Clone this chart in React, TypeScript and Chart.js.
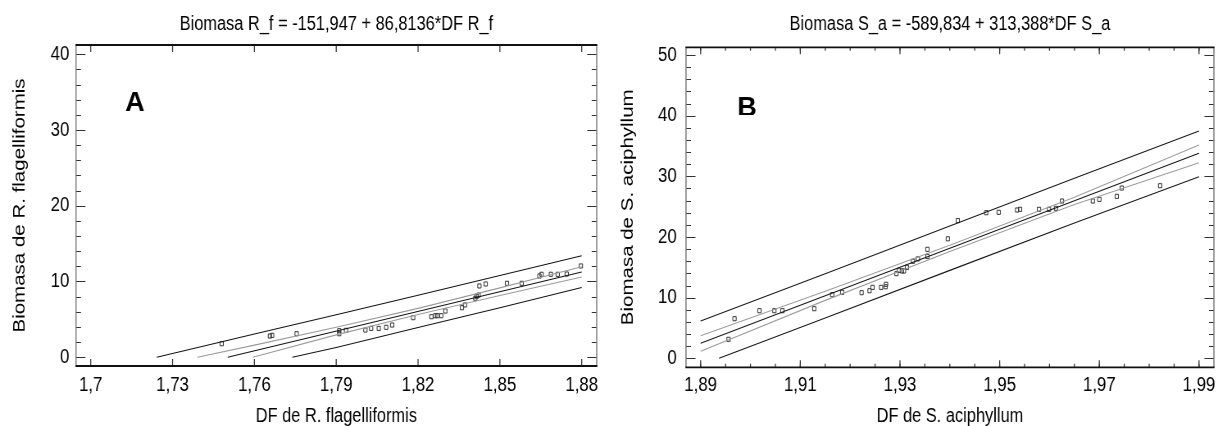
import React, { useEffect, useRef } from 'react';
import { Chart, registerables } from 'chart.js';

Chart.register(...registerables);

const FONT = '"Liberation Sans", Arial, sans-serif';

// ---------- Panel A : R. flagelliformis ----------
const rfTitle = 'Biomasa R_f = -151,947 + 86,8136*DF R_f';
const rfXLabel = 'DF de R. flagelliformis';
const rfYLabel = 'Biomasa de R. flagelliformis';
const rfXTicks = [1.7, 1.73, 1.76, 1.79, 1.82, 1.85, 1.88];
const rfYTicks = [0, 10, 20, 30, 40];
const rfDF = [1.748, 1.7657, 1.7665, 1.7755, 1.7911, 1.7911, 1.7936, 1.8007, 1.8028, 1.8056, 1.8083, 1.8105, 1.8182, 1.8249, 1.8263, 1.8271, 1.8285, 1.83, 1.8361, 1.8372, 1.841, 1.8415, 1.8422, 1.8425, 1.8448, 1.8526, 1.858, 1.8645, 1.8653, 1.8687, 1.8712, 1.8745, 1.8797];
const rfBiomasa = [1.78, 2.8, 2.89, 3.1, 3.1, 3.5, 3.55, 3.59, 3.81, 3.81, 3.95, 4.25, 5.22, 5.35, 5.48, 5.48, 5.48, 6.1, 6.54, 6.9, 7.78, 8.05, 8.2, 9.41, 9.67, 9.76, 9.76, 10.73, 10.95, 10.95, 10.95, 10.99, 12.05];
const rfFitX = [1.7502, 1.88];
const rfFitY = [0, 11.26];
const rfUpperPredX = [1.7242, 1.76, 1.79, 1.82, 1.85, 1.88];
const rfUpperPredY = [0, 3.07, 5.61, 8.18, 10.79, 13.41];
const rfUpperConfX = [1.7391, 1.76, 1.79, 1.82, 1.85, 1.88];
const rfUpperConfY = [0, 1.6, 3.95, 6.45, 9.16, 11.95];
const rfLowerConfX = [1.7594, 1.79, 1.82, 1.85, 1.88];
const rfLowerConfY = [0, 2.95, 5.65, 8.16, 10.6];
const rfLowerPredX = [1.7739, 1.79, 1.82, 1.85, 1.88];
const rfLowerPredY = [0, 1.29, 3.92, 6.53, 9.2];

// ---------- Panel B : S. aciphyllum ----------
const saTitle = 'Biomasa S_a = -589,834 + 313,388*DF S_a';
const saXLabel = 'DF de S. aciphyllum';
const saYLabel = 'Biomasa de S. aciphyllum';
const saXTicks = [1.89, 1.91, 1.93, 1.95, 1.97, 1.99];
const saYTicks = [0, 10, 20, 30, 40, 50];
const saDF = [1.8956, 1.8968, 1.9018, 1.9048, 1.9064, 1.9128, 1.9164, 1.9184, 1.9223, 1.9239, 1.9245, 1.9262, 1.9271, 1.9272, 1.9293, 1.9298, 1.9304, 1.9308, 1.9314, 1.9326, 1.9336, 1.9355, 1.9355, 1.9396, 1.9416, 1.9473, 1.9498, 1.9535, 1.9541, 1.9579, 1.9599, 1.9613, 1.9625, 1.9687, 1.97, 1.9735, 1.9745, 1.9822];
const saBiomasa = [3.13, 6.53, 7.85, 7.85, 7.85, 8.18, 10.49, 10.88, 10.82, 11.14, 11.7, 11.7, 11.8, 12.2, 13.95, 14.5, 14.4, 14.4, 15.0, 16.0, 16.4, 16.8, 17.97, 19.7, 22.7, 24.0, 24.07, 24.45, 24.56, 24.56, 24.56, 24.73, 25.93, 25.93, 26.2, 26.7, 28.07, 28.45];
const saFitX = [1.89, 1.99];
const saFitY = [2.47, 33.81];
const saUpperPredX = [1.89, 1.915, 1.94, 1.965, 1.99];
const saUpperPredY = [6.15, 13.95, 21.8, 29.7, 37.47];
const saUpperConfX = [1.89, 1.915, 1.94, 1.965, 1.99];
const saUpperConfY = [3.73, 11.05, 18.65, 26.55, 35.16];
const saLowerConfX = [1.89, 1.915, 1.94, 1.965, 1.99];
const saLowerConfY = [1.15, 9.55, 17.62, 25.35, 32.25];
const saLowerPredX = [1.8937, 1.915, 1.94, 1.965, 1.99];
const saLowerPredY = [0, 6.65, 14.5, 22.3, 29.94];

// screen size of each panel; the canvas is drawn wider then squeezed horizontally
const W = 609;
const H = 426;
const CW = 743;
const S = W / CW;

const pts = (xs: number[], ys: number[]) => xs.map((x, i) => ({ x, y: ys[i] }));

type Panel = {
  title: string;
  letter: string;
  letterX: number;
  letterBaseline: number;
  letterClip: number;
  xLabel: string;
  yLabel: string;
  xTicks: number[];
  yTicks: number[];
  xMinorStep: number;
  yMinorStep: number;
  xMin: number;
  xMax: number;
  yMin: number;
  yMax: number;
  points: { x: number; y: number }[];
  lines: { data: { x: number; y: number }[]; color: string }[];
  area: { left: number; right: number; top: number; bottom: number };
  yTickPad: number;
  xTickPad: number;
  yTitlePad: number;
  xMajorLen: number;
  xMinorLen: number;
};

const DARK = '#111';
const GRAY = '#9a9a9a';

const panelA: Panel = {
  title: rfTitle,
  letter: 'A',
  letterX: 135,
  letterBaseline: 111,
  letterClip: 200,
  xLabel: rfXLabel,
  yLabel: rfYLabel,
  xTicks: rfXTicks,
  yTicks: rfYTicks,
  xMinorStep: 0,
  yMinorStep: 2,
  xMin: 1.6946,
  xMax: 1.8855,
  yMin: -1.16,
  yMax: 41.23,
  points: pts(rfDF, rfBiomasa),
  lines: [
    { data: pts(rfUpperPredX, rfUpperPredY), color: DARK },
    { data: pts(rfUpperConfX, rfUpperConfY), color: GRAY },
    { data: pts(rfFitX, rfFitY), color: DARK },
    { data: pts(rfLowerConfX, rfLowerConfY), color: GRAY },
    { data: pts(rfLowerPredX, rfLowerPredY), color: DARK },
  ],
  area: { left: 76, right: 596.7, top: 45, bottom: 366 },
  yTickPad: 6.7,
  xTickPad: 6.9,
  yTitlePad: 12,
  xMajorLen: 7,
  xMinorLen: 4,
};

const panelB: Panel = {
  title: saTitle,
  letter: 'B',
  letterX: 138,
  letterBaseline: 116,
  letterClip: 115,
  xLabel: saXLabel,
  yLabel: saYLabel,
  xTicks: saXTicks,
  yTicks: saYTicks,
  xMinorStep: 0.005,
  yMinorStep: 2,
  xMin: 1.88707,
  xMax: 1.99299,
  yMin: -1.48,
  yMax: 51.27,
  points: pts(saDF, saBiomasa),
  lines: [
    { data: pts(saUpperPredX, saUpperPredY), color: DARK },
    { data: pts(saUpperConfX, saUpperConfY), color: GRAY },
    { data: pts(saFitX, saFitY), color: DARK },
    { data: pts(saLowerConfX, saLowerConfY), color: GRAY },
    { data: pts(saLowerPredX, saLowerPredY), color: DARK },
  ],
  area: { left: 77, right: 607.7, top: 47.3, bottom: 367.3 },
  yTickPad: 9.3,
  xTickPad: 6.2,
  yTitlePad: 11,
  xMajorLen: 7,
  xMinorLen: 3.5,
};

const fmt = (v: number) => String(parseFloat(Number(v).toFixed(3))).replace('.', ',');

function buildChart(canvas: HTMLCanvasElement, p: Panel) {
  const decor = {
    id: 'decor' + p.letter,
    afterDatasetsDraw(chart: any) {
      const ctx = chart.ctx as CanvasRenderingContext2D;
      const { left, right, top, bottom } = chart.chartArea;
      const xs = chart.scales.x;
      const ys = chart.scales.y;
      ctx.save();
      ctx.strokeStyle = '#333';
      const vline = (px: number, len: number) => {
        ctx.lineWidth = 1.25;
        ctx.beginPath();
        ctx.moveTo(px, bottom);
        ctx.lineTo(px, bottom - len);
        ctx.moveTo(px, top);
        ctx.lineTo(px, top + len);
        ctx.stroke();
      };
      const hline = (py: number, len: number) => {
        const y = Math.round(py) + 0.5;
        ctx.lineWidth = 1;
        ctx.beginPath();
        ctx.moveTo(left, y);
        ctx.lineTo(left + len / S, y);
        ctx.moveTo(right, y);
        ctx.lineTo(right - len / S, y);
        ctx.stroke();
      };
      if (p.xMinorStep > 0) {
        const first = p.xTicks[0];
        const last = p.xTicks[p.xTicks.length - 1];
        const n = Math.round((last - first) / p.xMinorStep);
        for (let i = 0; i <= n; i++) vline(xs.getPixelForValue(first + i * p.xMinorStep), p.xMinorLen);
      }
      p.xTicks.forEach((v) => vline(xs.getPixelForValue(v), p.xMajorLen));
      {
        const first = p.yTicks[0];
        const last = p.yTicks[p.yTicks.length - 1];
        const n = Math.round((last - first) / p.yMinorStep);
        for (let i = 0; i <= n; i++) hline(ys.getPixelForValue(first + i * p.yMinorStep), 5);
      }
      p.yTicks.forEach((v) => hline(ys.getPixelForValue(v), 9.5));
      // frame
      ctx.strokeStyle = '#777';
      ctx.lineWidth = 1.4;
      ctx.beginPath();
      ctx.moveTo(left, top);
      ctx.lineTo(left, bottom);
      ctx.moveTo(right, top);
      ctx.lineTo(right, bottom);
      ctx.stroke();
      ctx.strokeStyle = '#111';
      ctx.lineWidth = 1.8;
      ctx.beginPath();
      ctx.moveTo(left - 0.7, top);
      ctx.lineTo(right + 0.7, top);
      ctx.moveTo(left - 0.7, bottom);
      ctx.lineTo(right + 0.7, bottom);
      ctx.stroke();
      ctx.restore();
    },
    afterDraw(chart: any) {
      const ctx = chart.ctx as CanvasRenderingContext2D;
      const { left, right } = chart.chartArea;
      ctx.save();
      ctx.fillStyle = '#000';
      ctx.font = `20px ${FONT}`;
      ctx.textAlign = 'center';
      ctx.textBaseline = 'middle';
      ctx.fillText(p.title, (left + right) / 2, 24.7);
      ctx.beginPath();
      ctx.rect(0, 0, CW, p.letterClip);
      ctx.clip();
      // panel letter drawn without the horizontal squeeze
      ctx.translate(p.letterX / S, p.letterBaseline);
      ctx.scale(1 / S, 1);
      ctx.font = `bold 27px ${FONT}`;
      ctx.textBaseline = 'alphabetic';
      ctx.fillText(p.letter, 0, 0);
      ctx.restore();
    },
  };

  const datasets: any[] = p.lines.map((l) => ({
    type: 'scatter',
    data: l.data,
    showLine: true,
    borderColor: l.color,
    borderWidth: 1.1,
    pointRadius: 0,
    fill: false,
    tension: 0,
  }));
  datasets.push({
    type: 'scatter',
    data: p.points,
    showLine: false,
    pointStyle: 'rect',
    pointRadius: 2.9,
    borderColor: '#333',
    borderWidth: 1,
    backgroundColor: 'rgba(255,255,255,0)',
  });

  return new Chart(canvas, {
    type: 'scatter',
    data: { datasets },
    options: {
      animation: false,
      responsive: false,
      devicePixelRatio: 1,
      layout: { padding: { top: p.area.top, right: CW - p.area.right / S, left: 0, bottom: 0 } },
      plugins: {
        legend: { display: false },
        tooltip: { enabled: false },
        title: { display: false },
      },
      events: [],
      scales: {
        x: {
          type: 'linear',
          min: p.xMin,
          max: p.xMax,
          grid: { display: false, drawTicks: false },
          border: { display: false },
          ticks: {
            font: { family: FONT, size: 20.5 },
            color: '#000',
            padding: p.xTickPad,
            autoSkip: false,
            maxRotation: 0,
            minRotation: 0,
            callback: (v: any) => fmt(v),
          },
          afterBuildTicks: (s: any) => {
            s.ticks = p.xTicks.map((v) => ({ value: v }));
          },
          afterFit: (s: any) => {
            s.height = H - p.area.bottom;
            s.paddingLeft = 0;
            s.paddingRight = 0;
          },
          title: {
            display: true,
            text: p.xLabel,
            font: { family: FONT, size: 20, lineHeight: 1 },
            color: '#000',
            padding: { top: 0, bottom: 0 },
          },
        },
        y: {
          type: 'linear',
          min: p.yMin,
          max: p.yMax,
          grid: { display: false, drawTicks: false },
          border: { display: false },
          ticks: {
            font: { family: FONT, size: 20.5 },
            color: '#000',
            padding: p.yTickPad / S,
            autoSkip: false,
            callback: (v: any) => fmt(v),
          },
          afterBuildTicks: (s: any) => {
            s.ticks = p.yTicks.map((v) => ({ value: v }));
          },
          afterFit: (s: any) => {
            s.width = p.area.left / S;
            s.paddingTop = 0;
            s.paddingBottom = 0;
          },
          title: {
            display: true,
            text: p.yLabel,
            font: { family: FONT, size: 20.5 },
            color: '#000',
            padding: { top: p.yTitlePad, bottom: 0 },
          },
        },
      },
    } as any,
    plugins: [decor],
  });
}

export default function App() {
  const refA = useRef<HTMLCanvasElement>(null);
  const refB = useRef<HTMLCanvasElement>(null);
  useEffect(() => {
    document.body.style.margin = '0';
    const a = buildChart(refA.current as HTMLCanvasElement, panelA);
    const b = buildChart(refB.current as HTMLCanvasElement, panelB);
    return () => {
      a.destroy();
      b.destroy();
    };
  }, []);
  const cs: React.CSSProperties = { position: 'absolute', top: 0, width: W + 'px', height: H + 'px' };
  return (
    <div style={{ position: 'relative', width: 2 * W, height: H, background: '#fff' }}>
      <canvas ref={refA} width={CW} height={H} style={{ ...cs, left: 0 }} />
      <canvas ref={refB} width={CW} height={H} style={{ ...cs, left: W }} />
    </div>
  );
}
